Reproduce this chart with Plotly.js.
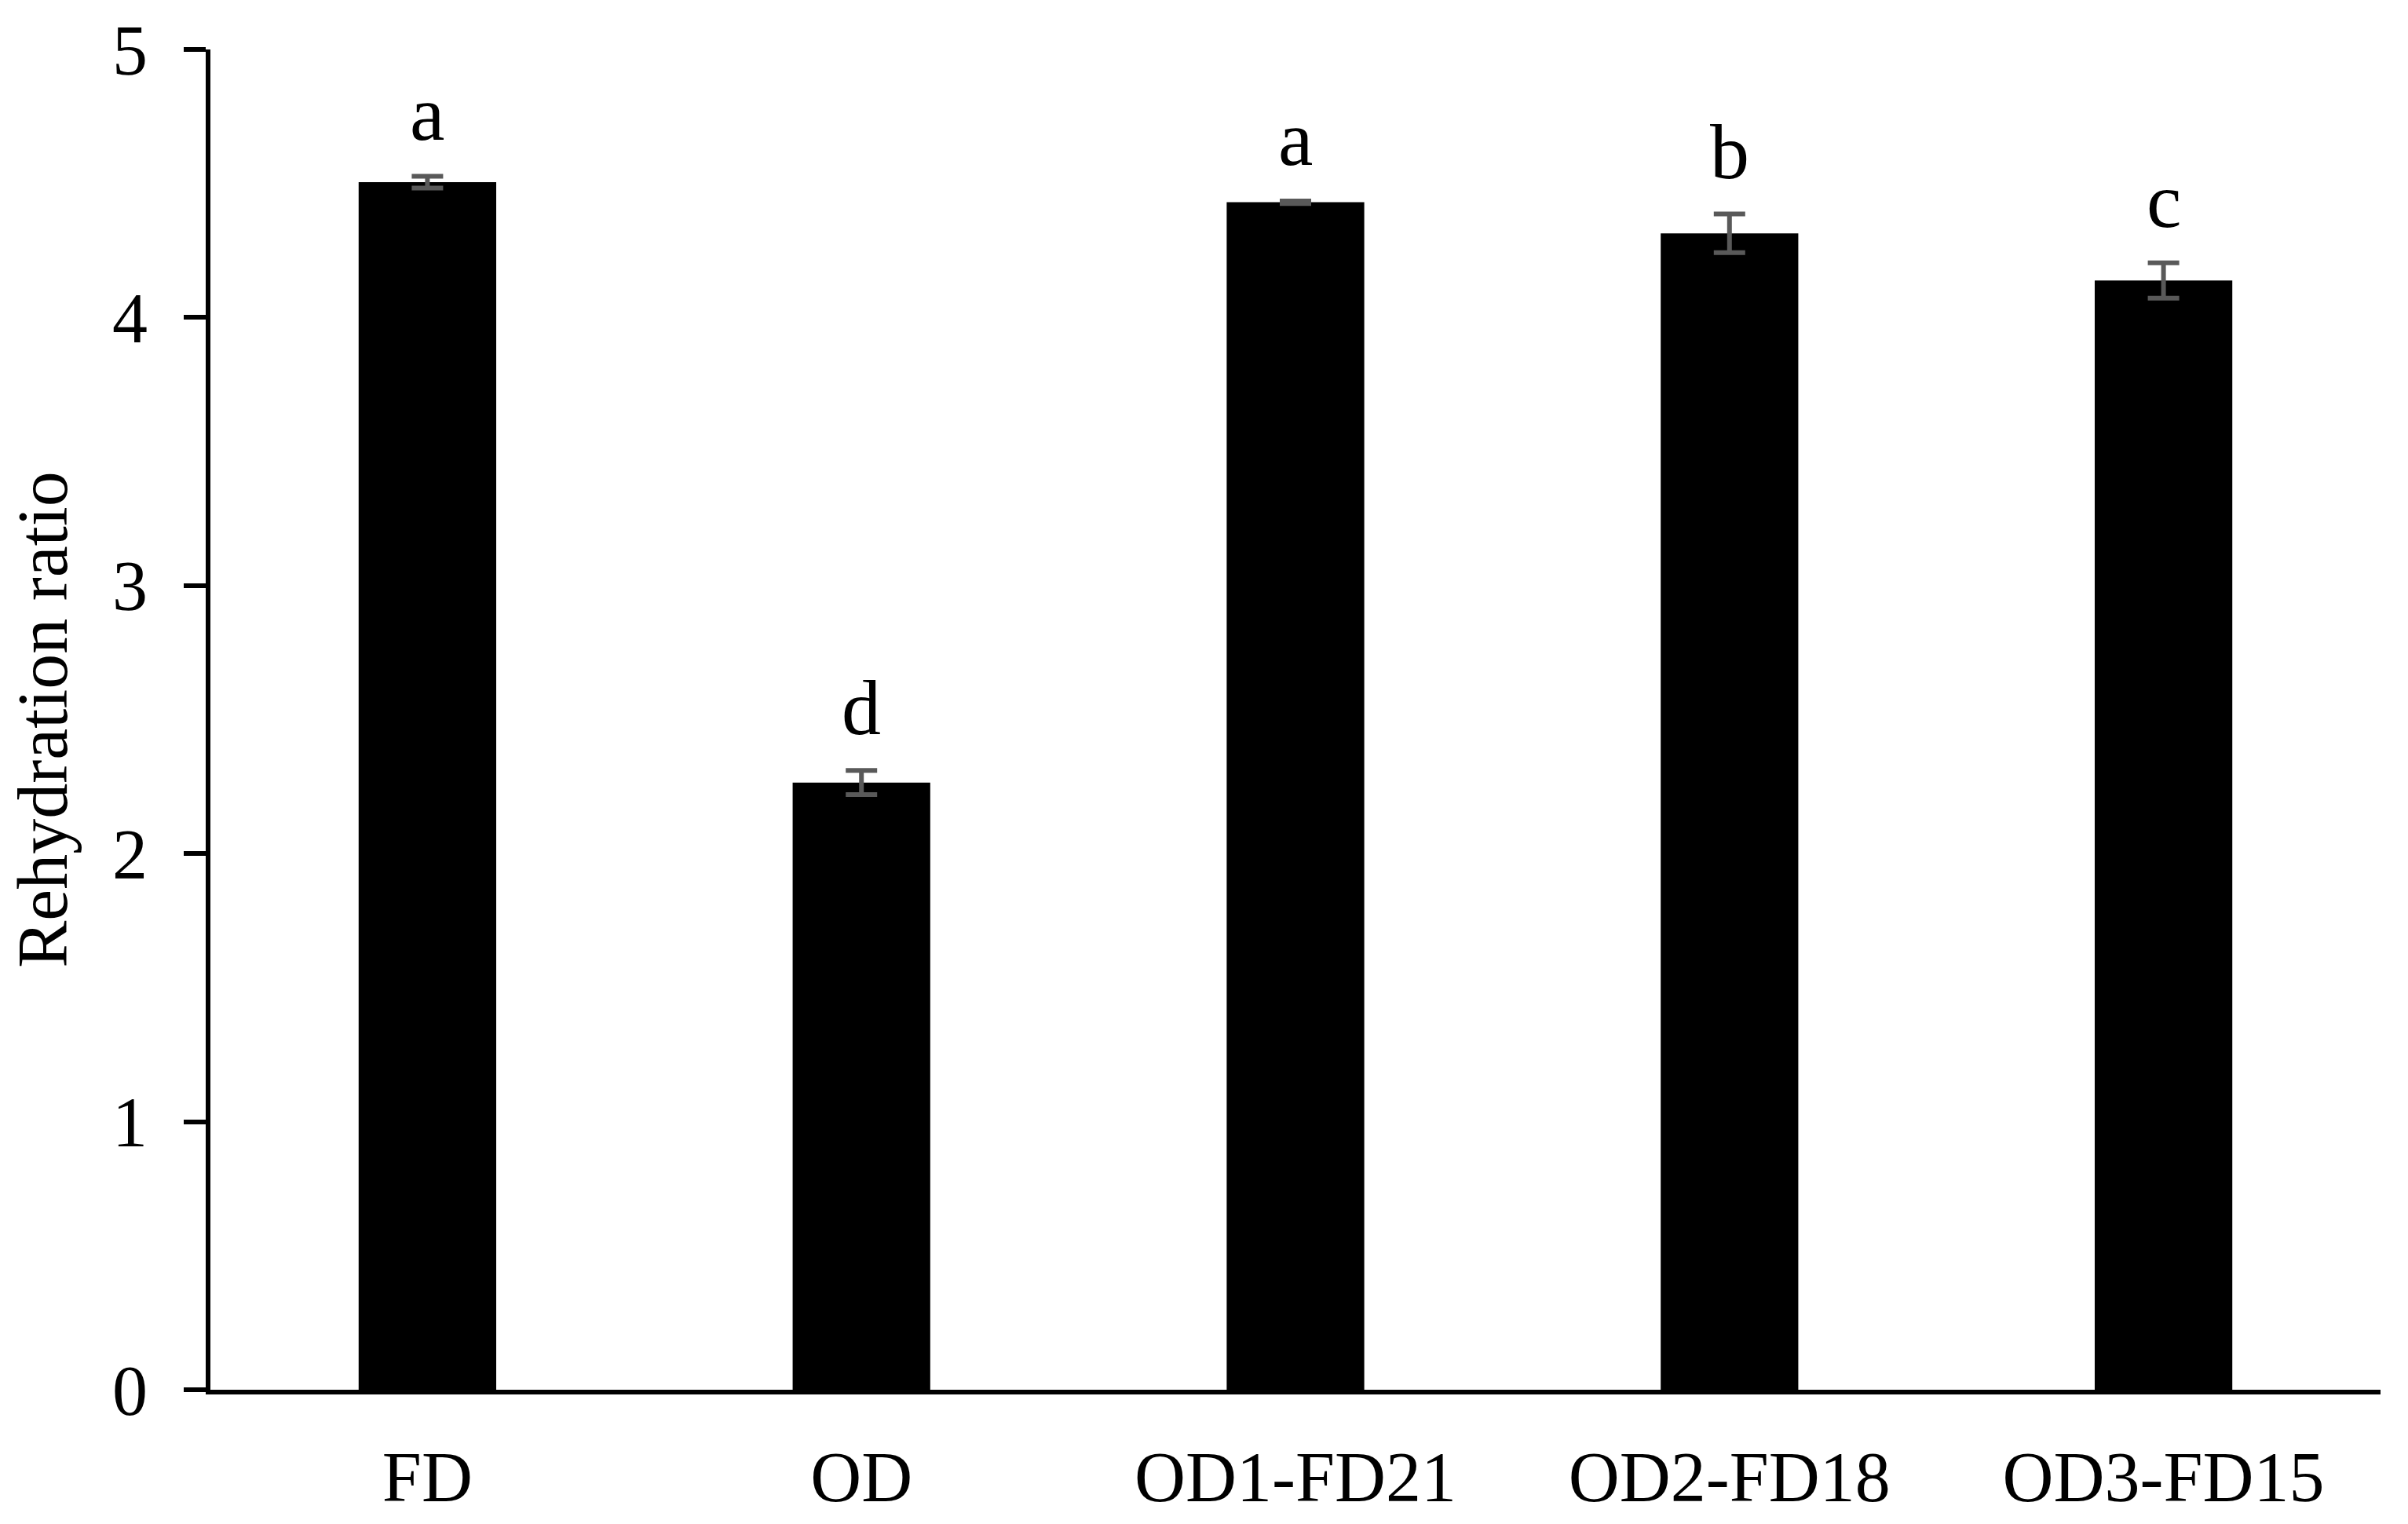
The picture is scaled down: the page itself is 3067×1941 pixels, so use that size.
<!DOCTYPE html>
<html>
<head>
<meta charset="utf-8">
<script src="https://cdn.plot.ly/plotly-3.0.1.min.js"></script>
<style>
  html, body { margin: 0; padding: 0; background: #fff; }
  #RehydrationChart { width: 3067px; height: 1941px; }
</style>
</head>
<body>
<div id="RehydrationChart"></div>
<script>
const treatments = ['FD', 'OD', 'OD1-FD21', 'OD2-FD18', 'OD3-FD15'];
const ratio = [4.505, 2.265, 4.43, 4.314, 4.138];
const ratioErr = [0.022, 0.045, 0.005, 0.072, 0.066];
const letters = ['a', 'd', 'a', 'b', 'c'];

function drawRehydrationChart() {

    const data = [{
        x: treatments,
        y: ratio,
        type: 'bar',
        width: 0.317,
        marker: { color: '#000000', line: { width: 0 } },
        error_y: {
            type: 'data',
            array: ratioErr,
            visible: true,
            color: '#595959',
            thickness: 6,
            width: 20
        },
        hoverinfo: 'none'
    }];

    const notes = treatments.map((t, i) => ({
        x: t,
        y: ratio[i] + ratioErr[i],
        text: letters[i],
        showarrow: false,
        yanchor: 'bottom',
        yshift: 22,
        font: { family: 'Liberation Serif, Times New Roman, serif', size: 100, color: '#000' }
    }));

    const layout = {
        width: 3067,
        height: 1941,
        paper_bgcolor: '#fff',
        plot_bgcolor: '#fff',
        showlegend: false,
        font: { family: 'Liberation Serif, Times New Roman, serif', size: 90, color: '#000' },
        margin: { l: 268, r: 35, t: 63, b: 171 },
        xaxis: {
            type: 'category',
            range: [-0.5, 4.5],
            showline: true,
            linecolor: '#000',
            linewidth: 6,
            ticks: '',
            showgrid: false,
            zeroline: false,
            ticklabelstandoff: 28,
            tickfont: { size: 90 }
        },
        yaxis: {
            title: { text: 'Rehydration ratio', font: { size: 90 }, standoff: 30 },
            range: [0, 5],
            dtick: 1,
            showline: true,
            linecolor: '#000',
            linewidth: 6,
            ticks: 'outside',
            ticklen: 28,
            tickwidth: 6,
            tickcolor: '#000',
            showgrid: false,
            zeroline: false,
            ticklabelstandoff: 28,
            tickfont: { size: 90 }
        },
        annotations: notes
    };

    Plotly.newPlot('RehydrationChart', data, layout, { staticPlot: true });
}

drawRehydrationChart();
</script>
</body>
</html>
